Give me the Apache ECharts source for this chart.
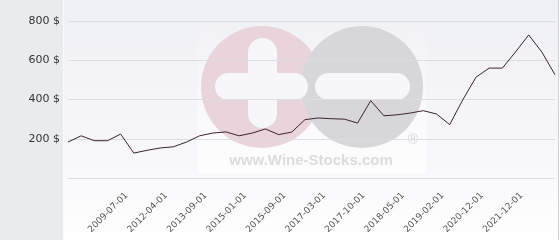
<!DOCTYPE html>
<html><head><meta charset="utf-8">
<script src="https://cdn.jsdelivr.net/npm/echarts@6/dist/echarts.min.js"></script>
<style>html,body{margin:0;padding:0;background:#fff}#c{width:560px;height:240px}</style>
</head><body><div id="c"></div>
<script>
var categories = ['2007-03-01','2007-11-01','2008-06-01','2009-01-01','2009-07-01','2010-09-01','2011-06-01','2012-04-01','2012-10-01','2013-03-01',
  '2013-09-01','2014-03-01','2014-08-01','2015-01-01','2015-04-01','2015-06-01','2015-09-01','2016-05-01','2016-11-01','2017-03-01',
  '2017-05-01','2017-08-01','2017-10-01','2017-12-01','2018-03-01','2018-05-01','2018-08-01','2018-11-01','2019-02-01','2019-09-01',
  '2020-05-01','2020-12-01','2021-04-01','2021-08-01','2021-12-01','2022-04-01','2022-08-01','2022-12-01'];
var prices = [183,215,190,190,224,127,141,153,159,183,215,229,235,215,229,250,221,234,297,306,302,300,280,394,317,322,331,343,326,272,399,514,560,560,642,729,642,526];
var yTicks = [0,200,400,600,800];
var shownLabels = ['2009-07-01','2012-04-01','2013-09-01','2015-01-01','2015-09-01','2017-03-01','2017-10-01','2018-05-01','2019-02-01','2020-12-01','2021-12-01'];

var chart = echarts.init(document.getElementById('c'), null, {renderer:'canvas'});
chart.setOption({
  animation:false,
  graphic:[
    {type:'rect', z:-20, shape:{x:0,y:0,width:63,height:240}, style:{fill:'#e8ecef'}},
    {type:'rect', z:-20, shape:{x:63,y:0,width:1,height:240}, style:{fill:'#f8f9fa'}},
    {type:'rect', z:-20, shape:{x:64,y:0,width:494,height:240},
      style:{fill:new echarts.graphic.LinearGradient(0,0,0,1,[{offset:0,color:'#eff0f5'},{offset:0.7,color:'#f8f8fb'},{offset:1,color:'#ffffff'}])}},
    {type:'rect', z:-20, shape:{x:558,y:0,width:1,height:240}, style:{fill:'#cfd0d4'}},
    {type:'rect', z:-19, shape:{x:197,y:14,width:230,height:159},
      style:{fill:new echarts.graphic.LinearGradient(0,0,0,1,[{offset:0,color:'rgba(255,255,255,0)'},{offset:1,color:'rgba(255,255,255,0.7)'}])}},
    {type:'circle', z:-18, shape:{cx:262,cy:87,r:61}, style:{fill:'#ead4db'}},
    {type:'circle', z:-17, shape:{cx:362,cy:87,r:61}, style:{fill:'#d7d7da'}},
    {type:'rect', z:-16, shape:{x:215,y:73,width:93,height:27,r:13.5}, style:{fill:'#f7f7f9'}},
    {type:'rect', z:-16, shape:{x:248,y:38,width:29,height:90,r:14.5}, style:{fill:'#f7f7f9'}},
    {type:'rect', z:-16, shape:{x:315,y:73,width:95,height:27,r:13.5}, style:{fill:'#f7f7f9'}},
    {type:'text', z:-16, style:{x:311,y:161,text:'www.Wine-Stocks.com',fill:'#dcdcdc',font:'bold 15px "Liberation Sans", Arial',textAlign:'center',textVerticalAlign:'middle'}},
    {type:'text', z:-16, style:{x:413,y:140,text:'®',fill:'#d6d6d6',font:'14px "Liberation Sans", Arial',textAlign:'center',textVerticalAlign:'middle'}}
  ],
  grid:{left:68,right:5,top:21,bottom:62,containLabel:false},
  xAxis:{
    type:'category', data:categories, boundaryGap:false,
    axisLine:{show:false}, axisTick:{show:false},
    axisLabel:{
      rotate:45, margin:10, color:'#555', fontSize:9, fontFamily:'DejaVu Sans',
      verticalAlign:'top', padding:[4,0,0,0],
      interval:function(i,v){return shownLabels.indexOf(v)>=0;}
    },
    splitLine:{show:false}
  },
  yAxis:{
    type:'value', min:yTicks[0], max:yTicks[yTicks.length-1], interval:200,
    axisLine:{show:false}, axisTick:{show:false},
    axisLabel:{margin:8, color:'#333', fontSize:11, fontFamily:'DejaVu Sans',
      formatter:function(v){return v===0?'':v+' $';}},
    splitLine:{lineStyle:{color:'#dcdde2',width:1}}
  },
  series:[{
    type:'line', data:prices, symbol:'none', smooth:false,
    lineStyle:{color:'#3b2230',width:1}, z:5
  }]
});
</script></body></html>
